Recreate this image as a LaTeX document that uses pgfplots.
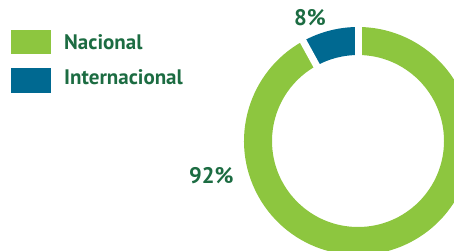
\documentclass[border=0pt]{standalone}
\usepackage{pgfplots}
\pgfplotsset{compat=1.18}
\usepackage{pgfplotstable}
\usepackage{fontspec}
\setmainfont{PT Sans}
\definecolor{cgreen}{RGB}{141,198,63}
\definecolor{cblue}{RGB}{0,105,145}
\definecolor{ctext}{RGB}{28,108,66}
\pgfplotstableread{
label value
Nacional 92
Internacional 8
}\datatable
\begin{document}
\begin{tikzpicture}
\pgfplotstablegetelem{0}{value}\of\datatable \let\vA\pgfplotsretval
\pgfplotstablegetelem{1}{value}\of\datatable \let\vB\pgfplotsretval
\pgfmathsetmacro{\aB}{90+360*\vB/(\vA+\vB)}
\begin{axis}[
  scale only axis, width=454pt, height=251pt,
  xmin=0, xmax=454, ymin=0, ymax=251, y dir=reverse,
  hide axis, clip=true,
]
\begin{scope}
\clip (axis cs:0,0) rectangle (axis cs:454,251);
% blue segment (Internacional)
\fill[cblue, shift={(axis cs:358,141)}] (90:114pt) arc[start angle=90,end angle=\aB,radius=114pt] -- (\aB:86pt) arc[start angle=\aB,end angle=90,radius=86pt] -- cycle;
% green segment (Nacional)
\fill[cgreen, shift={(axis cs:358,141)}] (\aB:114pt) arc[start angle=\aB,end angle=450,radius=114pt] -- (450:86pt) arc[start angle=450,end angle=\aB,radius=86pt] -- cycle;
% gaps
\draw[white, line width=7pt, shift={(axis cs:358,141)}] (90:80pt) -- (90:120pt);
\draw[white, line width=7pt, shift={(axis cs:358,141)}] (\aB:80pt) -- (\aB:120pt);
\end{scope}
% legend
\fill[cgreen] (axis cs:11,30) rectangle (axis cs:51,54);
\fill[cblue] (axis cs:11,68) rectangle (axis cs:51,93);
\node[anchor=base west, inner sep=0pt, text=ctext, font=\fontsize{21}{24}\selectfont\bfseries] at (axis cs:64,49.3) {Nacional};
\node[anchor=base west, inner sep=0pt, text=ctext, font=\fontsize{21}{24}\selectfont\bfseries] at (axis cs:64,84.3) {Internacional};
% value labels
\node[anchor=base west, inner sep=0pt, text=ctext, font=\fontsize{22.5}{26}\selectfont\bfseries] at (axis cs:189,183) {92\%};
\node[anchor=base west, inner sep=0pt, text=ctext, font=\fontsize{22.5}{26}\selectfont\bfseries] at (axis cs:294,25.7) {8\%};
\end{axis}
\pgfresetboundingbox
\useasboundingbox (current axis.south west) rectangle (current axis.north east);
\end{tikzpicture}
\end{document}
